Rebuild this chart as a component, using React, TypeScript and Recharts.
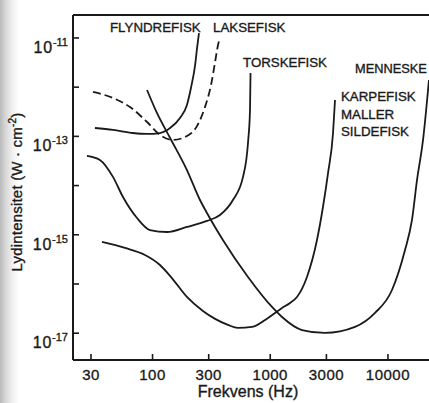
import React from "react";
import { LineChart, Line, XAxis, YAxis, ReferenceLine } from "recharts";

// Frequencies in Hz, intensities in W/cm^2
const FLYNDRE_F = [32.4, 46.1, 68.2, 89.8, 115.6, 141, 171, 196, 212, 230, 239, 248];
const FLYNDRE_I = [1.48e-13, 1.35e-13, 1.17e-13, 1.12e-13, 1.17e-13, 1.48e-13, 2.37e-13, 4.35e-13, 9.64e-13, 2.82e-12, 6.26e-12, 1.26e-11];

const LAKSE_F = [31.2, 46.1, 64.3, 89.8, 115.6, 149.3, 196, 239, 279, 314, 340, 360, 374];
const LAKSE_I = [7.98e-13, 6.03e-13, 3.96e-13, 1.96e-13, 1.07e-13, 8.45e-14, 1.02e-13, 1.63e-13, 3.96e-13, 1.11e-12, 3.25e-12, 7.21e-12, 1e-11];

const TORSKE_F = [27.7, 35.7, 46.1, 56.1, 73.8, 95, 133, 196, 290, 374, 482, 587, 647, 673, 680];
const TORSKE_I = [4.0e-14, 3.31e-14, 1.5e-14, 5.86e-15, 2.19e-15, 1.25e-15, 1.14e-15, 1.44e-15, 1.91e-15, 2.52e-15, 5.09e-15, 1.5e-14, 7.35e-14, 3.44e-13, 1.95e-12];

const KARPE_F = [37.2, 58.3, 86.3, 115.6, 146, 196, 268, 340, 437, 532, 700, 957, 1259, 1472, 1687, 2051, 2495, 2805, 3097, 3415, 3550];
const KARPE_I = [7.14e-16, 5.39e-16, 3.88e-16, 2.43e-16, 1.32e-16, 5.44e-17, 2.82e-17, 1.95e-17, 1.47e-17, 1.28e-17, 1.34e-17, 2.04e-17, 3.25e-17, 4.11e-17, 5.44e-17, 1.39e-16, 7.84e-16, 3.67e-15, 1.8e-14, 1.17e-13, 5.5e-13];

const MENNESKE_F = [89.8, 109, 141, 196, 253, 290, 396, 647, 1035, 1259, 1862, 2917, 5250, 7760, 10820, 13960, 16000, 17660, 19860, 22300];
const MENNESKE_I = [8.77e-13, 2.99e-13, 9.27e-14, 2.07e-14, 5.09e-15, 2.77e-15, 7.84e-16, 1.39e-16, 3.41e-17, 2.13e-17, 1.16e-17, 1.01e-17, 1.34e-17, 2.58e-17, 7.55e-17, 4.91e-16, 2.0e-15, 1.3e-14, 8.45e-14, 1.4e-12];

const X_TICKS = [30, 100, 300, 1000, 3000, 10000];
const Y_TICKS = [1e-11, 1e-12, 1e-13, 1e-14, 1e-15, 1e-16, 1e-17];
const X_DOMAIN = [21.1, 22320];
const Y_DOMAIN = [2.85e-18, 2.93e-11];

const build = (f: number[], v: number[]) => f.map((x, k) => ({ f: x, i: v[k] }));

const FONT = '"Liberation Sans", Arial, Helvetica, sans-serif';
const INK = "#1a1a1a";
const TXT = { stroke: INK, strokeWidth: 0.35 };

const XTick = (props: any) => {
  const { x, y, payload } = props;
  return (
    <g>
      <line x1={x} y1={y} x2={x} y2={y - 6} stroke={INK} strokeWidth={1.6} />
      <text x={x} y={y + 20} textAnchor="middle" fontFamily={FONT} fontSize={15} fill={INK} letterSpacing={0.5} {...TXT}>
        {String(payload.value)}
      </text>
    </g>
  );
};

const YTick = (props: any) => {
  const { x, y, payload } = props;
  const exp = Math.round(Math.log10(payload.value));
  const labeled = Math.abs(exp) % 2 === 1;
  return (
    <g>
      <line x1={x} y1={y} x2={x + 6} y2={y} stroke={INK} strokeWidth={1.6} />
      {labeled && (
        <text x={x - 5} y={y + 15} textAnchor="end" fontFamily={FONT} fontSize={16} fill={INK} letterSpacing={0.8} {...TXT}>
          <tspan>10</tspan>
          <tspan dy={-7} fontSize={11} letterSpacing={0}>{String(exp)}</tspan>
        </text>
      )}
    </g>
  );
};

export default function App() {
  const lineProps = {
    dataKey: "i",
    dot: false,
    activeDot: false,
    stroke: INK,
    strokeWidth: 1.8,
    type: "monotoneX" as const,
    isAnimationActive: false,
  };
  return (
    <div
      style={{
        position: "absolute",
        left: 0,
        top: 0,
        width: 429,
        height: 403,
        background: "linear-gradient(to right, #b9b9b9 0px, #d4d4d4 5px, #efefef 12px, #ffffff 19px)",
      }}
    >
      <LineChart width={429} height={403} margin={{ top: 15, right: 0, bottom: 0, left: 0 }}>
        <XAxis
          type="number"
          dataKey="f"
          scale="log"
          domain={X_DOMAIN}
          ticks={X_TICKS}
          allowDataOverflow
          height={43}
          tickLine={false}
          tickSize={0}
          tickMargin={0}
          tick={<XTick />}
          axisLine={{ stroke: INK, strokeWidth: 2 }}
          interval={0}
        />
        <YAxis
          type="number"
          scale="log"
          domain={Y_DOMAIN}
          ticks={Y_TICKS}
          allowDataOverflow
          width={73}
          tickLine={false}
          tickSize={0}
          tickMargin={0}
          tick={<YTick />}
          axisLine={{ stroke: INK, strokeWidth: 2 }}
          interval={0}
        />
        <ReferenceLine y={Y_DOMAIN[1]} stroke={INK} strokeWidth={2} ifOverflow="extendDomain" />
        <Line {...lineProps} data={build(FLYNDRE_F, FLYNDRE_I)} name="FLYNDREFISK" />
        <Line {...lineProps} data={build(LAKSE_F, LAKSE_I)} name="LAKSEFISK" strokeDasharray="8 4" />
        <Line {...lineProps} data={build(TORSKE_F, TORSKE_I)} name="TORSKEFISK" />
        <Line {...lineProps} data={build(KARPE_F, KARPE_I)} name="KARPEFISK" />
        <Line {...lineProps} data={build(MENNESKE_F, MENNESKE_I)} name="MENNESKE" />
        <g fontFamily={FONT} fill={INK} fontSize={13.3} stroke={INK} strokeWidth={0.35}>
          <text x={110} y={32}>FLYNDREFISK</text>
          <text x={213} y={32}>LAKSEFISK</text>
          <text x={243} y={67}>TORSKEFISK</text>
          <text x={355} y={73} fontSize={12.8}>MENNESKE</text>
          <text x={341} y={101}>KARPEFISK</text>
          <text x={341} y={118.5}>MALLER</text>
          <text x={341} y={136}>SILDEFISK</text>
          <text x={248} y={397} fontSize={16} textAnchor="middle">Frekvens (Hz)</text>
          <text
            x={22}
            y={192}
            transform="rotate(-90 22 192)"
            textAnchor="middle"
            fontSize={15}
            letterSpacing={0.2}
          >
            Lydintensitet (W · cm<tspan dy={-6} fontSize={10}>-2</tspan><tspan dy={6}>)</tspan>
          </text>
        </g>
      </LineChart>
    </div>
  );
}
